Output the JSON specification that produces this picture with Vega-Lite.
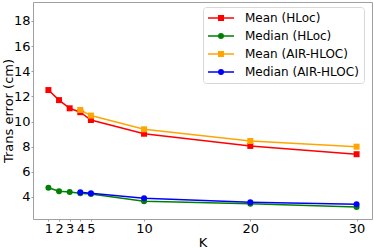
{
  "$schema": "https://vega.github.io/schema/vega-lite/v6.json",
  "width": 339,
  "height": 217,
  "autosize": {"type": "none"},
  "padding": {"left": 33, "top": 2, "right": 2, "bottom": 30},
  "config": {
    "font": "DejaVu Sans",
    "view": {"stroke": "#a0a0a0", "strokeWidth": 1},
    "axis": {"grid": false, "domain": false, "tickColor": "#a0a0a0", "tickSize": 2, "labelColor": "#000", "labelFontSize": 13, "titleFontSize": 13, "titleFontWeight": "normal", "titleColor": "#000", "labelPadding": 1, "labelFont": "DejaVu Sans", "titleFont": "DejaVu Sans"}
  },
  "data": {"values": [
    {"K": 1, "v": 12.5, "series": "Mean (HLoc)", "marker": "square"},
    {"K": 2, "v": 11.7, "series": "Mean (HLoc)", "marker": "square"},
    {"K": 3, "v": 11.05, "series": "Mean (HLoc)", "marker": "square"},
    {"K": 4, "v": 10.74, "series": "Mean (HLoc)", "marker": "square"},
    {"K": 5, "v": 10.12, "series": "Mean (HLoc)", "marker": "square"},
    {"K": 10, "v": 9.03, "series": "Mean (HLoc)", "marker": "square"},
    {"K": 20, "v": 8.06, "series": "Mean (HLoc)", "marker": "square"},
    {"K": 30, "v": 7.4, "series": "Mean (HLoc)", "marker": "square"},
    {"K": 1, "v": 4.74, "series": "Median (HLoc)", "marker": "circle"},
    {"K": 2, "v": 4.45, "series": "Median (HLoc)", "marker": "circle"},
    {"K": 3, "v": 4.4, "series": "Median (HLoc)", "marker": "circle"},
    {"K": 4, "v": 4.3, "series": "Median (HLoc)", "marker": "circle"},
    {"K": 5, "v": 4.24, "series": "Median (HLoc)", "marker": "circle"},
    {"K": 10, "v": 3.66, "series": "Median (HLoc)", "marker": "circle"},
    {"K": 20, "v": 3.47, "series": "Median (HLoc)", "marker": "circle"},
    {"K": 30, "v": 3.2, "series": "Median (HLoc)", "marker": "circle"},
    {"K": 4, "v": 10.92, "series": "Mean (AIR-HLOC)", "marker": "square"},
    {"K": 5, "v": 10.47, "series": "Mean (AIR-HLOC)", "marker": "square"},
    {"K": 10, "v": 9.38, "series": "Mean (AIR-HLOC)", "marker": "square"},
    {"K": 20, "v": 8.45, "series": "Mean (AIR-HLOC)", "marker": "square"},
    {"K": 30, "v": 8.0, "series": "Mean (AIR-HLOC)", "marker": "square"},
    {"K": 4, "v": 4.37, "series": "Median (AIR-HLOC)", "marker": "circle"},
    {"K": 5, "v": 4.3, "series": "Median (AIR-HLOC)", "marker": "circle"},
    {"K": 10, "v": 3.9, "series": "Median (AIR-HLOC)", "marker": "circle"},
    {"K": 20, "v": 3.58, "series": "Median (AIR-HLOC)", "marker": "circle"},
    {"K": 30, "v": 3.42, "series": "Median (AIR-HLOC)", "marker": "circle"}
  ]},
  "encoding": {
    "x": {"field": "K", "type": "quantitative", "scale": {"domain": [-0.45, 31.45], "nice": false, "zero": false},
          "axis": {"values": [1, 2, 3, 4, 5, 10, 20, 30], "title": "K", "titlePadding": 1}},
    "y": {"field": "v", "type": "quantitative", "scale": {"domain": [2.25, 19.5], "nice": false, "zero": false},
          "axis": {"values": [4, 6, 8, 10, 12, 14, 16, 18], "title": "Trans error (cm)", "titlePadding": -2}},
    "color": {"field": "series", "type": "nominal",
              "scale": {"domain": ["Mean (HLoc)", "Median (HLoc)", "Mean (AIR-HLOC)", "Median (AIR-HLOC)"], "range": ["#ff0000", "#008000", "#ffa500", "#0000ff"]},
              "legend": {"title": null, "orient": "none", "legendX": 170, "legendY": 5, "padding": 5, "strokeColor": "#d8d8d8", "fillColor": "#ffffff", "cornerRadius": 3, "labelFontSize": 12, "labelFont": "DejaVu Sans", "labelColor": "#000", "symbolSize": 100, "labelOffset": 25, "rowPadding": 6, "symbolStrokeWidth": 1.5,
                "encode": {"symbols": {"update": {
                  "shape": {"signal": "indexof(datum.value, 'Mean') == 0 ? 'M-1.2,0H4M0.95,-0.45H1.85V0.45H0.95Z' : 'M-1.2,0H4M1.85,0A0.45,0.45 0 1,1 0.95,0A0.45,0.45 0 1,1 1.85,0'"},
                  "fill": {"scale": "color", "field": "value"},
                  "stroke": {"scale": "color", "field": "value"},
                  "strokeWidth": {"value": 1.5},
                  "opacity": {"value": 1}
                }}}}}
  },
  "layer": [
    {"mark": {"type": "line", "strokeWidth": 1.5}},
    {"mark": {"type": "point", "filled": true, "opacity": 1},
     "encoding": {"shape": {"field": "marker", "type": "nominal", "scale": {"domain": ["square", "circle"], "range": ["square", "circle"]}, "legend": null},
                  "size": {"value": 36}}}
  ]
}
